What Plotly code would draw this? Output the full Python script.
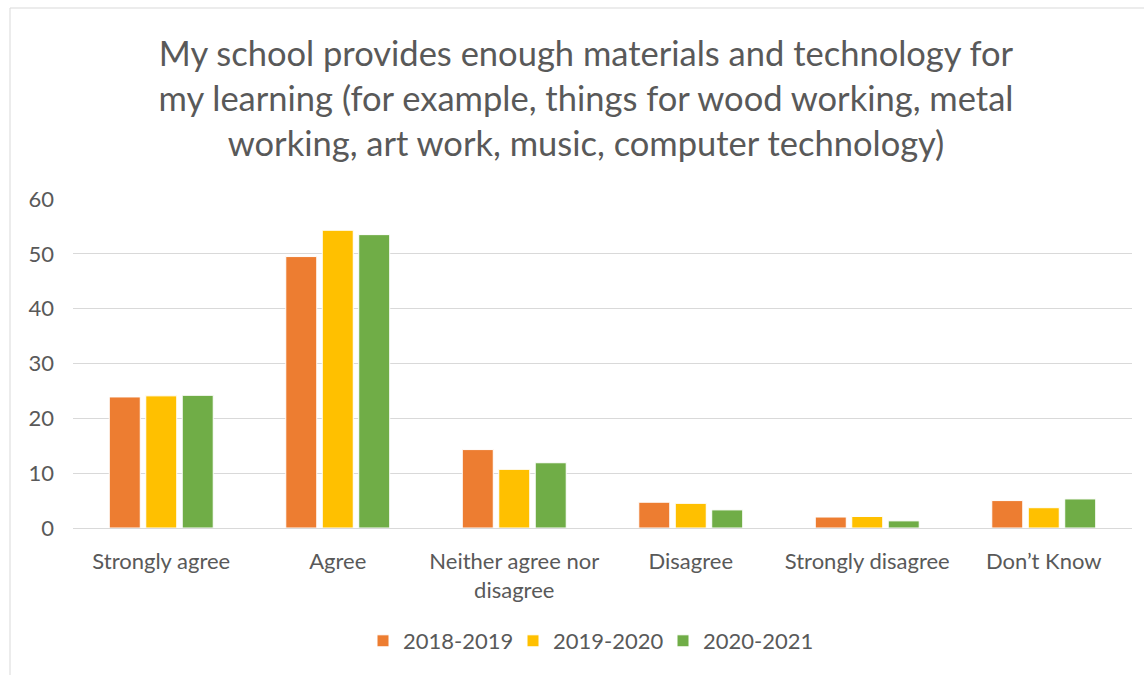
import plotly.graph_objects as go

categories = ["Strongly agree", "Agree", "Neither agree nor<br>disagree",
              "Disagree", "Strongly disagree", "Don\u2019t Know"]
series_names = ["2018-2019", "2019-2020", "2020-2021"]
values_2018 = [23.9, 49.5, 14.3, 4.7, 2.0, 5.0]
values_2019 = [24.1, 54.3, 10.7, 4.5, 2.1, 3.7]
values_2020 = [24.2, 53.5, 11.9, 3.3, 1.3, 5.3]
colors = ["#ED7D31", "#FFC000", "#70AD47"]

W, H = 1144, 675
L, R, T, B = 73, 12, 199, 147
pw, ph = W - L - R, H - T - B

fig = go.Figure()
for name, vals, col in zip(series_names, [values_2018, values_2019, values_2020], colors):
    fig.add_trace(go.Bar(
        x=categories, y=vals, name=name,
        marker=dict(color=col, line=dict(color="white", width=1)),
    ))

font_family = "Lato, 'Open Sans', sans-serif"
grid = "#D9D9D9"
text_col = "#595959"

fig.update_layout(
    width=W, height=H,
    margin=dict(l=L, r=R, t=T, b=B),
    paper_bgcolor="white", plot_bgcolor="white",
    barmode="group", bargap=0.38, bargroupgap=0.15,
    font=dict(family=font_family, color=text_col),
    title=dict(
        text="My school provides enough materials and technology for<br>"
             "my learning (for example, things for wood working, metal<br>"
             "working, art work, music, computer technology)",
        x=586 / W, xref="container", xanchor="center",
        y=1 - 66 / H, yref="container", yanchor="top",
        font=dict(size=34.5, color=text_col, family=font_family),
    ),
    xaxis=dict(
        showgrid=False, showline=False, zeroline=False,
        tickfont=dict(size=22, color=text_col),
        ticklabelstandoff=18,
    ),
    yaxis=dict(
        range=[0, 60], dtick=10, showgrid=True, gridcolor=grid, gridwidth=1,
        zeroline=True, zerolinecolor=grid, zerolinewidth=1, showline=False,
        tickfont=dict(size=22, color=text_col),
        ticklabelstandoff=18,
    ),
    legend=dict(
        orientation="h", xref="container", x=588 / W, xanchor="center",
        yref="container", y=1 - 641 / H, yanchor="middle",
        font=dict(size=22, color=text_col),
        entrywidth=105, entrywidthmode="pixels",
        itemwidth=30,
    ),
    shapes=[dict(
        type="rect", xref="paper", yref="paper",
        x0=(10 - L) / pw, x1=1.2,
        y0=-1.0, y1=(H - B - 8) / ph,
        line=dict(color=grid, width=1), fillcolor="rgba(0,0,0,0)",
        layer="below",
    )],
)

fig.write_html("out.html")
